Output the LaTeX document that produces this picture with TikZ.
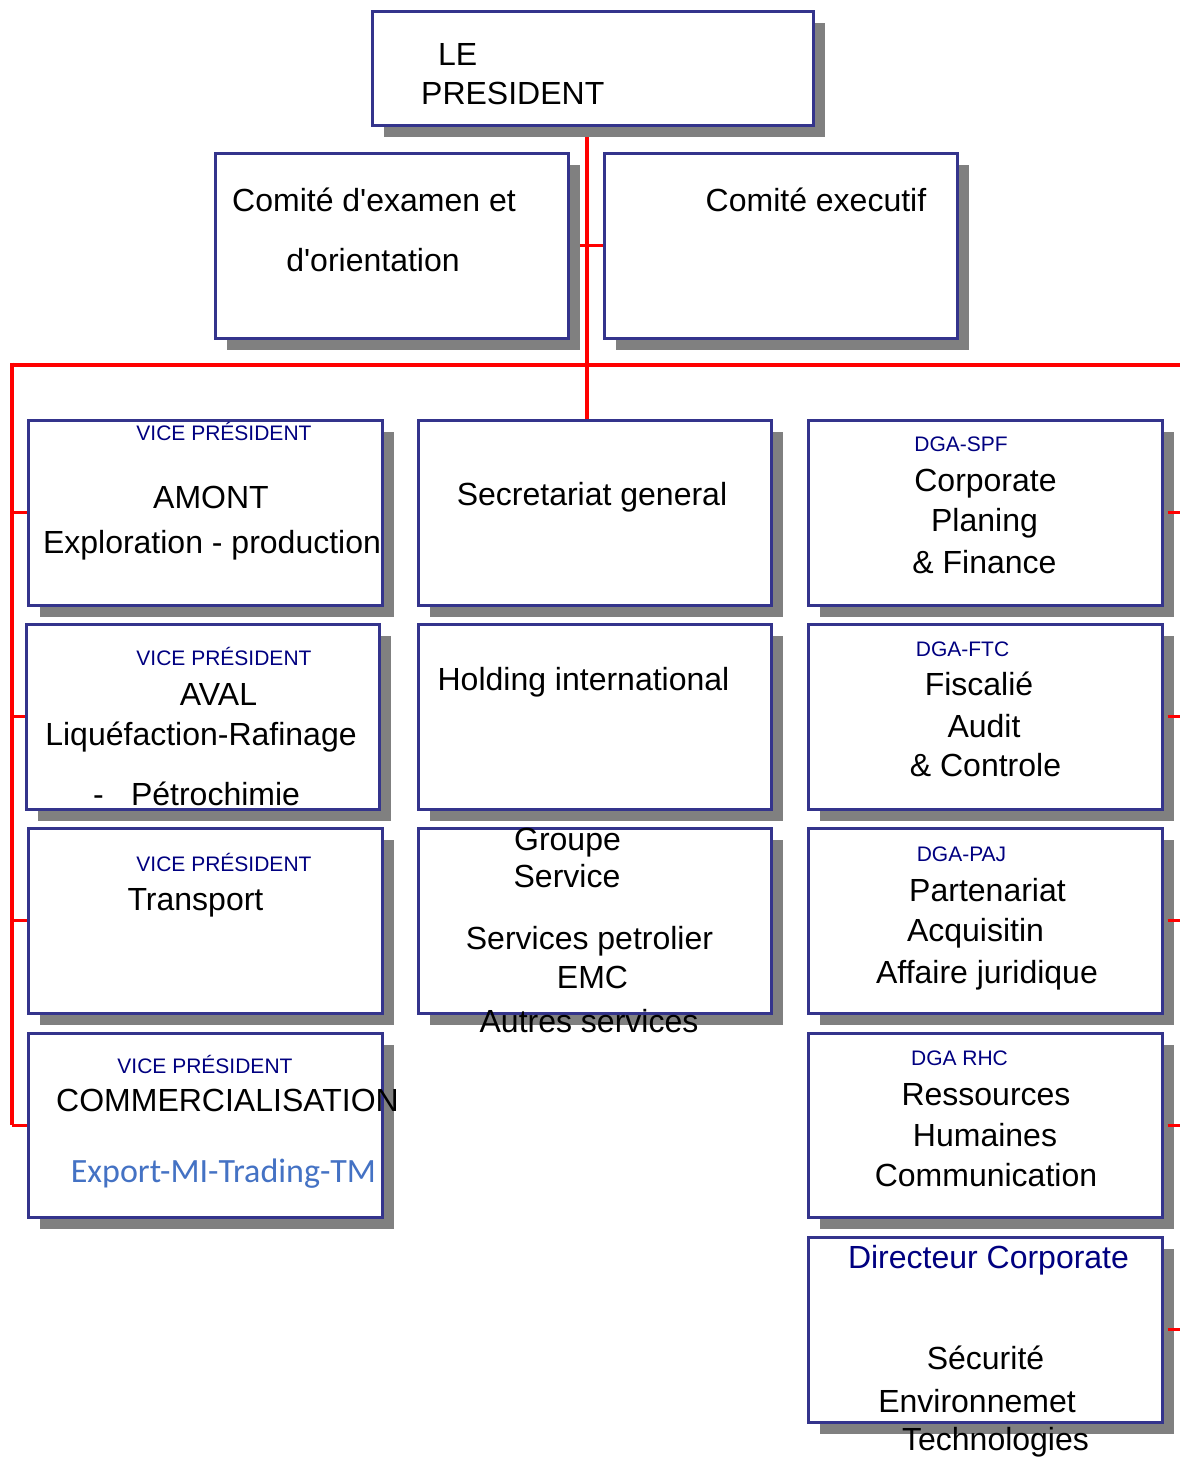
\documentclass[tikz,border=0pt]{standalone}
\usepackage{fontspec}
\setmainfont{Liberation Sans}
\newfontfamily\calib{Carlito}
\usetikzlibrary{shadows}
\definecolor{boxblue}{RGB}{52,52,140}
\definecolor{shadowgray}{RGB}{128,128,128}
\definecolor{navyt}{RGB}{0,0,128}
\definecolor{exblue}{RGB}{68,114,196}
\pgfdeclarelayer{bg}
\pgfsetlayers{bg,main}
\tikzset{
  orgbox/.style={draw=boxblue, line width=3pt, fill=white, inner sep=0pt,
    general shadow={fill=shadowgray, shadow xshift=12pt, shadow yshift=-12pt}},
  txt/.style={anchor=base, inner sep=0pt, font=\fontsize{32}{38}\selectfont},
  sm/.style={anchor=base, inner sep=0pt, text=navyt, font=\fontsize{21}{25}\selectfont},
  link/.style={draw=red, line width=4pt},
  stub/.style={draw=red, line width=3pt}
}
\begin{document}
\begin{tikzpicture}[x=1pt,y=-1pt]
\useasboundingbox (0,0) rectangle (1180,1457);
% boxes
\node[orgbox, minimum width=441pt, minimum height=114pt] (pres) at (592.5,68) {};
\node[orgbox, minimum width=353pt, minimum height=185pt] (cexam) at (391.5,245.5) {};
\node[orgbox, minimum width=353pt, minimum height=185pt] (cexec) at (780.5,245.5) {};
\node[orgbox, minimum width=354pt, minimum height=185pt] (amont) at (205,512.5) {};
\node[orgbox, minimum width=353pt, minimum height=185pt] (aval) at (202.5,716.5) {};
\node[orgbox, minimum width=354pt, minimum height=185pt] (transp) at (205,920.5) {};
\node[orgbox, minimum width=354pt, minimum height=184pt] (comm) at (205,1125) {};
\node[orgbox, minimum width=353pt, minimum height=185pt] (sec) at (594.5,512.5) {};
\node[orgbox, minimum width=353pt, minimum height=185pt] (hold) at (594.5,716.5) {};
\node[orgbox, minimum width=353pt, minimum height=185pt] (grp) at (594.5,920.5) {};
\node[orgbox, minimum width=354pt, minimum height=185pt] (spf) at (985,512.5) {};
\node[orgbox, minimum width=354pt, minimum height=185pt] (ftc) at (985,716.5) {};
\node[orgbox, minimum width=354pt, minimum height=185pt] (paj) at (985,920.5) {};
\node[orgbox, minimum width=354pt, minimum height=184pt] (rhc) at (985,1125) {};
\node[orgbox, minimum width=354pt, minimum height=185pt] (dirc) at (985,1329.5) {};
% connectors
\coordinate (busL) at (12,364.5);
\coordinate (busR) at (1180,364.5);
\coordinate (jx) at (587,0);
\begin{pgfonlayer}{bg}
\draw[link] (pres.south -| jx) -- (sec.north -| jx);
\draw[stub] (cexam.east) -- (cexec.west);
\draw[link] (busL) -- (busR);
\draw[link] ([yshift=2pt]busL) -- (comm.west -| busL);
\draw[stub] (amont.west -| busL) -- (amont.west);
\draw[stub] (aval.west -| busL) -- (aval.west);
\draw[stub] (transp.west -| busL) -- (transp.west);
\draw[stub] (comm.west -| busL) -- (comm.west);
\end{pgfonlayer}
\draw[stub] ([xshift=4pt]spf.east) -- (spf.east -| busR);
\draw[stub] ([xshift=4pt]ftc.east) -- (ftc.east -| busR);
\draw[stub] ([xshift=4pt]paj.east) -- (paj.east -| busR);
\draw[stub] ([xshift=4pt]rhc.east) -- (rhc.east -| busR);
\draw[stub] ([xshift=4pt]dirc.east) -- (dirc.east -| busR);
% texts
\node[txt, anchor=base west] (tle) at (438,65) {LE};
\node[txt, anchor=base west] (tpres) at (421,104) {PRESIDENT};
\node[txt] (tce1) at (374,211.5) {Comité d\textquotesingle examen et};
\node[txt] (tce2) at (373,271.5) {d\textquotesingle orientation};
\node[txt] (tcx) at (816,211.5) {Comité executif};
\node[sm] (vp1) at (224,440) {VICE PRÉSIDENT};
\node[txt] (tam1) at (211,508) {AMONT};
\node[txt] (tam2) at (212,553) {Exploration - production};
\node[txt] (tsec) at (592,505) {Secretariat general};
\node[sm] (tspf) at (961,451.5) {DGA-SPF};
\node[txt] (tspf1) at (985.5,491.5) {Corporate};
\node[txt] (tspf2) at (984.5,531.5) {Planing};
\node[txt] (tspf3) at (984.5,573) {\& Finance};
\node[sm] (vp2) at (224,665.5) {VICE PRÉSIDENT};
\node[txt] (tav1) at (218.5,705) {AVAL};
\node[txt] (tav2) at (201,745) {Liquéfaction-Rafinage};
\node[txt] (tav3) at (98.5,805.5) {-};
\node[txt] (tav4) at (215.5,805.5) {Pétrochimie};
\node[txt] (thold) at (583.5,690) {Holding international};
\node[sm] (tftc) at (962.5,656) {DGA-FTC};
\node[txt] (tftc1) at (979,695) {Fiscalié};
\node[txt] (tftc2) at (984,737) {Audit};
\node[txt] (tftc3) at (985.5,776.5) {\& Controle};
\node[sm] (vp3) at (224,871) {VICE PRÉSIDENT};
\node[txt] (ttr) at (195.5,910) {Transport};
\node[txt] (tg1) at (567.5,850) {Groupe};
\node[txt] (tg2) at (567,887) {Service};
\node[txt] (tg3) at (589.5,949) {Services petrolier};
\node[txt] (tg4) at (592.5,988) {EMC};
\node[txt] (tg5) at (589,1032) {Autres services};
\node[sm] (tpaj) at (961.5,861) {DGA-PAJ};
\node[txt] (tpaj1) at (987.5,901) {Partenariat};
\node[txt] (tpaj2) at (975.5,941) {Acquisitin};
\node[txt] (tpaj3) at (987,983) {Affaire juridique};
\node[sm] (vp4) at (205,1073) {VICE PRÉSIDENT};
\node[txt] (tcm1) at (227.5,1111) {COMMERCIALISATION};
\node[anchor=base, inner sep=0pt, text=exblue, font=\calib\fontsize{34}{41}\selectfont] (tcm2) at (223.5,1182) {Export-MI-Trading-TM};
\node[sm] (trhc) at (959.5,1065.5) {DGA RHC};
\node[txt] (trhc1) at (986,1105.5) {Ressources};
\node[txt] (trhc2) at (985,1146) {Humaines};
\node[txt] (trhc3) at (986,1186.5) {Communication};
\node[txt, text=navyt] (tdc) at (988.5,1268) {Directeur Corporate};
\node[txt] (tdc1) at (985.5,1369) {Sécurité};
\node[txt] (tdc2) at (977,1412) {Environnemet};
\node[txt] (tdc3) at (995.5,1450) {Technologies};
\end{tikzpicture}
\end{document}
